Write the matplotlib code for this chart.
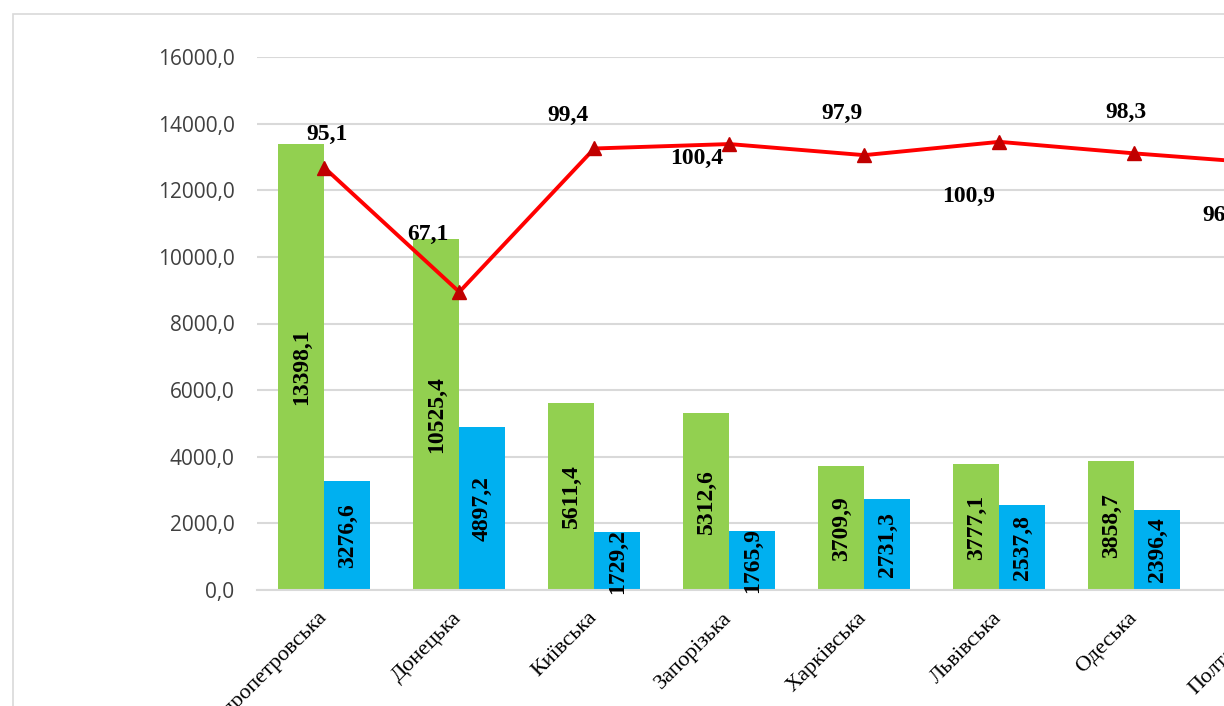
import numpy as np
import matplotlib
matplotlib.use("Agg")
import matplotlib.pyplot as plt
from matplotlib.patches import Rectangle

categories = ["Дніпропетровська", "Донецька", "Київська", "Запорізька",
              "Харківська", "Львівська", "Одеська", "Полтавська"]
green_vals = [13398.1, 10525.4, 5611.4, 5312.6, 3709.9, 3777.1, 3858.7, np.nan]
blue_vals = [3276.6, 4897.2, 1729.2, 1765.9, 2731.3, 2537.8, 2396.4, np.nan]
line_vals = [95.1, 67.1, 99.4, 100.4, 97.9, 100.9, 98.3, 96.0]
yticks = [0, 2000, 4000, 6000, 8000, 10000, 12000, 14000, 16000]

# label offsets in pixels (dx, dy) for line labels
line_label_offsets = [(3, 33), (-31, 58), (-26, 33), (-33, -14),
                      (-22, 42), (-31, -55), (-8, 41), (-46, -52)]

W, H = 1224, 706
fig = plt.figure(figsize=(W / 100, H / 100), dpi=100)

# chart frame
fig.patches.append(Rectangle((13 / W, -0.1), 2.0, (H - 14) / H + 0.1,
                             transform=fig.transFigure, fill=False,
                             edgecolor="#d9d9d9", linewidth=1.2, zorder=0))

left = 256.8 / W
bottom = (H - 590) / H
top = (H - 57) / H
width = 135 * len(categories) / W
ax = fig.add_axes([left, bottom, width, top - bottom])
ax.set_facecolor("none")

x = np.arange(len(categories))
bw = 46 / 135
gcol = "#92d050"
bcol = "#00b0f0"
ax.bar(x - bw / 2, green_vals, bw, color=gcol, zorder=2)
ax.bar(x + bw / 2, blue_vals, bw, color=bcol, zorder=2)

def fmt(v):
    return f"{v:.1f}".replace(".", ",")

for xi, v in zip(x, green_vals):
    if not np.isnan(v):
        ax.text(xi - bw / 2, v / 2, fmt(v), rotation=90, ha="center", va="center",
                fontsize=17, fontweight="bold", family="Liberation Serif",
                color="black", zorder=5)
for xi, v in zip(x, blue_vals):
    if not np.isnan(v):
        ax.text(xi + bw / 2, v / 2, fmt(v), rotation=90, ha="center", va="center",
                fontsize=17, fontweight="bold", family="Liberation Serif",
                color="black", zorder=5)

ax.set_xlim(-0.5, len(categories) - 0.5)
ax.set_ylim(0, 16000)
ax.set_yticks(yticks)
ax.set_yticklabels([fmt(v) for v in yticks], family="Open Sans", fontsize=15,
                   color="#404040")
ax.tick_params(axis="y", length=0, pad=16)
ax.grid(axis="y", color="#d9d9d9", linewidth=1.5, zorder=0)
ax.set_axisbelow(True)
for s in ["top", "right", "left"]:
    ax.spines[s].set_visible(False)
ax.spines["bottom"].set_color("#d9d9d9")
ax.spines["bottom"].set_linewidth(1.5)

ax.set_xticks(x)
ax.set_xticklabels(categories, rotation=45, ha="right", va="center",
                   rotation_mode="anchor", family="Liberation Serif", fontsize=16,
                   color="black")
ax.tick_params(axis="x", length=0, pad=18)

ax2 = ax.twinx()
ax2.set_ylim(0, 120)
ax2.axis("off")
ax2.plot(x, line_vals, color="#ff0000", linewidth=2.8, marker="^",
         markersize=10, markerfacecolor="#c00000", markeredgecolor="#c00000",
         zorder=4)
for xi, v, (dx, dy) in zip(x, line_vals, line_label_offsets):
    ax2.annotate(fmt(v), (xi, v), xytext=(dx, dy), textcoords="offset pixels",
                 ha="center", va="center", fontsize=17, fontweight="bold",
                 family="Liberation Serif", color="black", zorder=6)

fig.savefig("out.png", dpi=100)
